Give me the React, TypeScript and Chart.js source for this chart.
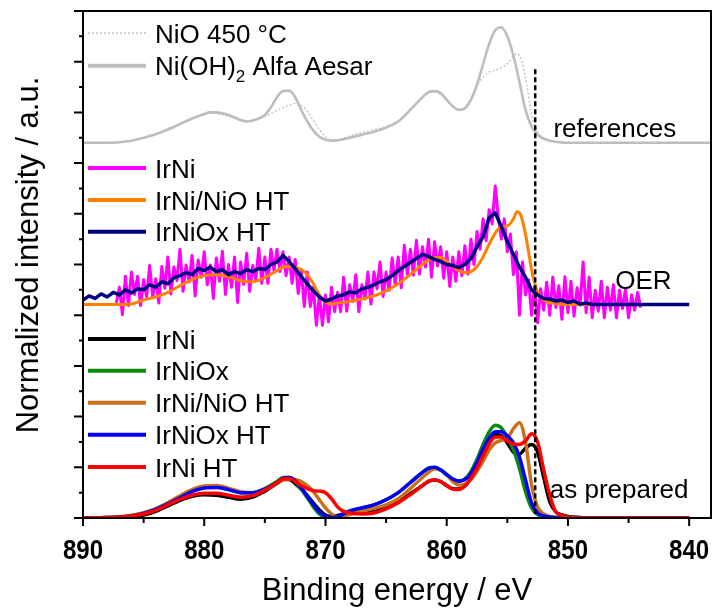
import React, { useEffect, useRef } from "react";
import { Chart, registerables } from "chart.js";

Chart.register(...registerables);

// ---------- axes ----------
const X_MIN = 838.2;
const X_MAX = 890;
const Y_MIN = 0;
const Y_MAX = 10;
const X_TICKS_MAJOR = [890, 880, 870, 860, 850, 840];
const X_TICKS_MINOR = [885, 875, 865, 855, 845];
const Y_TICKS_MAJOR = [0, 1, 2, 3, 4, 5, 6, 7, 8, 9, 10];
const Y_TICKS_MINOR = [0.5, 1.5, 2.5, 3.5, 4.5, 5.5, 6.5, 7.5, 8.5, 9.5];
const X_TITLE = "Binding energy / eV";
const Y_TITLE = "Normalized intensity / a.u.";
const DASH_E = 852.7;
const DASH_TOP = 8.85;

// ---------- references (top) ----------
const NIOH2_E = [890, 888, 887, 886, 885, 884, 883, 882, 881, 880, 879.5, 879, 878, 877, 876.5, 876, 875, 874.5, 874, 873.5, 873, 872.5, 872, 871.5, 871, 870.5, 870, 869.5, 869, 868, 867, 866, 865, 864, 863, 862, 861.5, 861, 860.5, 860, 859.5, 859, 858.5, 858, 857.5, 857, 856.5, 856, 855.5, 855, 854.5, 854, 853.5, 853, 852.5, 852, 851.5, 851, 850, 838.2];
const NIOH2_Y = [7.40, 7.40, 7.41, 7.44, 7.50, 7.57, 7.66, 7.77, 7.88, 7.97, 8.00, 8.00, 7.95, 7.85, 7.82, 7.84, 7.95, 8.10, 8.30, 8.42, 8.43, 8.30, 8.05, 7.82, 7.64, 7.52, 7.46, 7.44, 7.45, 7.50, 7.56, 7.62, 7.70, 7.82, 8.05, 8.30, 8.40, 8.42, 8.38, 8.25, 8.12, 8.05, 8.08, 8.25, 8.55, 8.95, 9.35, 9.62, 9.68, 9.50, 9.12, 8.60, 8.05, 7.72, 7.56, 7.48, 7.44, 7.42, 7.40, 7.40];

const NIO_E = [890, 887, 886, 885, 884, 883, 882, 881, 880, 879.5, 879, 878, 877, 876.5, 876, 875, 874, 873, 872.5, 872, 871.5, 871, 870.5, 870, 869.5, 869, 868, 867, 866, 865, 864, 863, 862, 861.5, 861, 860.5, 860, 859.5, 859, 858.5, 858, 857.5, 857, 856.5, 856, 855.5, 855, 854.5, 854.2, 853.8, 853.4, 853, 852.5, 852, 851.5, 851, 850, 838.2];
const NIO_Y = [7.40, 7.41, 7.44, 7.50, 7.58, 7.68, 7.78, 7.88, 7.96, 7.99, 7.98, 7.92, 7.84, 7.82, 7.84, 7.92, 8.04, 8.14, 8.18, 8.14, 8.02, 7.84, 7.66, 7.52, 7.46, 7.46, 7.54, 7.60, 7.66, 7.72, 7.84, 8.06, 8.30, 8.38, 8.40, 8.35, 8.24, 8.12, 8.06, 8.10, 8.28, 8.52, 8.70, 8.80, 8.84, 8.88, 8.96, 9.10, 9.16, 9.00, 8.55, 7.95, 7.62, 7.50, 7.45, 7.42, 7.40, 7.40];

// ---------- OER (middle) ----------
const OER_IRNI_START = 887.25;
const OER_IRNI_STEP = 0.25;
const OER_IRNI_Y = [
  4.24, 4.55, 4.01, 4.77, 4.19, 4.85, 4.41, 4.77, 4.19, 4.70, 4.37, 4.98, 4.35, 4.72, 4.24, 4.96,
  4.53, 5.15, 4.42, 4.95, 4.68, 5.30, 4.47, 4.99, 4.66, 5.18, 4.38, 5.09, 4.75, 5.25, 4.60, 4.99,
  4.33, 5.13, 4.67, 5.26, 4.41, 5.00, 4.55, 5.15, 4.25, 5.05, 4.61, 5.22, 4.47, 4.98, 4.70, 5.32,
  4.63, 5.15, 4.63, 5.30, 4.88, 5.30, 4.86, 5.25, 4.78, 5.15, 4.63, 5.10, 4.43, 4.90, 4.17, 4.85,
  4.17, 4.55, 3.80, 4.40, 3.80, 4.40, 3.87, 4.55, 4.07, 4.45, 4.07, 4.75, 4.08, 4.60, 4.27, 4.80,
  4.07, 4.60, 4.32, 4.85, 4.22, 4.85, 4.52, 5.05, 4.37, 4.85, 4.49, 5.13, 4.61, 5.15, 4.54, 5.38,
  4.81, 5.30, 4.79, 5.48, 4.81, 5.35, 4.95, 5.50, 4.75, 5.45, 4.97, 5.35, 4.73, 5.25, 4.57, 5.15,
  4.67, 5.25, 4.78, 5.37, 4.81, 5.50, 5.00, 5.65, 5.30, 5.90, 5.47, 6.08, 5.80, 6.55, 5.95, 5.50,
  5.90, 5.25, 5.60, 4.80, 5.25, 4.00, 5.05, 4.40, 4.70, 4.00, 4.57, 3.85, 4.52, 4.10, 4.65, 4.00,
  4.75, 4.15, 4.58, 3.92, 4.76, 4.05, 4.67, 3.98, 4.54, 4.20, 5.05, 4.05, 4.75, 3.95, 4.49, 4.08,
  4.67, 3.95, 4.55, 4.10, 4.60, 3.95, 4.49, 4.13, 4.52, 3.95, 4.40, 4.10, 4.45, 4.15,
];

const OER_NIO_E = [890, 887, 886, 885, 884, 883, 882, 881, 880, 879, 878, 877, 876, 875, 874, 873.5, 873, 872.5, 872, 871.5, 871, 870.5, 870, 869.5, 869, 868, 867, 866, 865, 864, 863, 862, 861, 860.5, 860, 859.5, 859, 858.5, 858, 857.5, 857, 856.5, 856, 855.5, 855, 854.5, 854.2, 853.9, 853.5, 853, 852.5, 852, 851, 850, 840];
const OER_NIO_Y = [4.21, 4.21, 4.22, 4.30, 4.36, 4.45, 4.58, 4.70, 4.78, 4.80, 4.76, 4.68, 4.66, 4.74, 4.88, 4.95, 4.96, 4.94, 4.90, 4.80, 4.62, 4.40, 4.26, 4.22, 4.24, 4.27, 4.32, 4.38, 4.48, 4.62, 4.80, 5.00, 5.14, 5.14, 5.06, 4.96, 4.88, 4.84, 4.86, 4.96, 5.15, 5.40, 5.62, 5.75, 5.76, 5.90, 6.04, 5.98, 5.60, 4.90, 4.45, 4.30, 4.23, 4.21, 4.21];

const OER_OX_E = [890, 889.5, 889, 888.5, 888, 887.5, 887, 886.5, 886, 885.5, 885, 884.5, 884, 883.5, 883, 882.5, 882, 881.5, 881, 880.5, 880, 879.5, 879, 878.5, 878, 877.5, 877, 876.5, 876, 875.5, 875, 874.5, 874, 873.5, 873, 872.5, 872, 871.5, 871, 870.5, 870, 869.5, 869, 868.5, 868, 867.5, 867, 866.5, 866, 865.5, 865, 864.5, 864, 863.5, 863, 862.5, 862, 861.5, 861, 860.5, 860, 859.5, 859, 858.5, 858, 857.5, 857, 856.5, 856, 855.5, 855, 854.5, 854, 853.5, 853, 852.5, 852, 851.5, 851, 850.5, 850, 849.5, 849, 848.5, 848, 840];
const OER_OX_Y = [4.30, 4.38, 4.33, 4.42, 4.36, 4.45, 4.40, 4.50, 4.44, 4.52, 4.50, 4.60, 4.55, 4.66, 4.62, 4.74, 4.78, 4.84, 4.80, 4.92, 4.88, 4.95, 4.86, 4.90, 4.80, 4.86, 4.82, 4.90, 4.86, 4.92, 4.90, 5.00, 5.05, 5.18, 5.06, 4.92, 4.76, 4.62, 4.48, 4.36, 4.28, 4.32, 4.38, 4.40, 4.46, 4.44, 4.52, 4.55, 4.60, 4.66, 4.70, 4.78, 4.88, 4.96, 5.04, 5.12, 5.20, 5.16, 5.10, 5.06, 5.00, 4.98, 4.94, 5.00, 5.12, 5.35, 5.55, 5.92, 6.02, 5.75, 5.45, 5.20, 4.95, 4.75, 4.50, 4.40, 4.33, 4.32, 4.28, 4.30, 4.25, 4.28, 4.22, 4.24, 4.21, 4.21];

// ---------- as prepared (bottom) ----------
const AP_E = [890, 888, 887, 886, 885, 884, 883, 882, 881, 880, 879, 878, 877, 876, 875, 874, 873.5, 873, 872.5, 872, 871.5, 871, 870.5, 870, 869.5, 869, 868.5, 868, 867, 866, 865, 864, 863, 862, 861.5, 861, 860.5, 860, 859.5, 859, 858.5, 858, 857.5, 857, 856.5, 856, 855.5, 855, 854.5, 854, 853.5, 853, 852.5, 852, 851.5, 851, 850.5, 850, 849, 848, 840];
const AP_IRNI = [0, 0, 0.01, 0.02, 0.06, 0.13, 0.24, 0.35, 0.43, 0.46, 0.45, 0.41, 0.37, 0.41, 0.53, 0.68, 0.76, 0.76, 0.68, 0.57, 0.44, 0.30, 0.16, 0.06, 0.03, 0.05, 0.08, 0.10, 0.12, 0.16, 0.22, 0.32, 0.48, 0.64, 0.72, 0.75, 0.72, 0.64, 0.58, 0.57, 0.63, 0.80, 1.02, 1.28, 1.52, 1.64, 1.62, 1.48, 1.30, 1.26, 1.38, 1.45, 1.30, 0.80, 0.32, 0.12, 0.06, 0.03, 0.01, 0, 0];
const AP_IRNIOX = [0, 0.01, 0.02, 0.05, 0.10, 0.18, 0.30, 0.43, 0.55, 0.61, 0.61, 0.56, 0.50, 0.50, 0.58, 0.72, 0.80, 0.80, 0.72, 0.57, 0.40, 0.22, 0.08, 0.01, 0, 0.01, 0.07, 0.13, 0.20, 0.26, 0.36, 0.50, 0.70, 0.90, 0.98, 0.99, 0.94, 0.85, 0.76, 0.72, 0.77, 0.92, 1.16, 1.45, 1.70, 1.83, 1.78, 1.58, 1.35, 0.98, 0.52, 0.20, 0.07, 0.03, 0.01, 0, 0, 0, 0, 0, 0];
const AP_IRNI_NIO_HT = [0, 0.01, 0.02, 0.05, 0.10, 0.18, 0.30, 0.44, 0.56, 0.63, 0.64, 0.59, 0.52, 0.50, 0.56, 0.68, 0.75, 0.77, 0.76, 0.72, 0.64, 0.52, 0.36, 0.20, 0.08, 0.02, 0.03, 0.07, 0.13, 0.19, 0.26, 0.38, 0.58, 0.80, 0.90, 0.97, 0.95, 0.85, 0.72, 0.65, 0.67, 0.76, 0.92, 1.12, 1.34, 1.48, 1.53, 1.57, 1.76, 1.88, 1.50, 0.65, 0.22, 0.08, 0.03, 0.01, 0, 0, 0, 0, 0];
const AP_IRNIOX_HT = [0, 0.01, 0.02, 0.04, 0.09, 0.17, 0.28, 0.40, 0.52, 0.59, 0.60, 0.56, 0.50, 0.50, 0.57, 0.70, 0.78, 0.80, 0.74, 0.60, 0.43, 0.26, 0.12, 0.04, 0.01, 0.02, 0.08, 0.14, 0.20, 0.26, 0.36, 0.50, 0.70, 0.90, 0.98, 1.00, 0.95, 0.86, 0.77, 0.73, 0.76, 0.88, 1.10, 1.36, 1.58, 1.70, 1.70, 1.62, 1.48, 1.20, 0.75, 0.30, 0.10, 0.04, 0.02, 0.01, 0, 0, 0, 0, 0];
const AP_IRNI_HT = [0, 0.01, 0.02, 0.04, 0.08, 0.15, 0.26, 0.37, 0.45, 0.49, 0.49, 0.45, 0.41, 0.44, 0.55, 0.70, 0.77, 0.78, 0.72, 0.64, 0.58, 0.54, 0.53, 0.50, 0.38, 0.22, 0.13, 0.10, 0.08, 0.10, 0.18, 0.30, 0.46, 0.64, 0.73, 0.75, 0.72, 0.64, 0.57, 0.56, 0.63, 0.78, 0.98, 1.22, 1.46, 1.60, 1.60, 1.52, 1.46, 1.45, 1.52, 1.66, 1.50, 0.95, 0.45, 0.12, 0.05, 0.02, 0, 0, 0];

// ---------- text ----------
const PANEL_LABELS = [
  { text: "references", x: 851.2, y: 7.52 },
  { text: "OER", x: 846.1, y: 4.51 },
  { text: "as prepared", x: 851.5, y: 0.39 },
];

const FONT = '"Liberation Sans", Arial, Helvetica, sans-serif';

type Series = {
  label: string;
  sub?: [string, string, string];
  color: string;
  width: number;
  dash?: number[];
  smooth: boolean;
  order: number;
  legendY: number;
  pts: { x: number; y: number }[];
};

const zip = (xs: number[], ys: number[]) => xs.map((x, i) => ({ x, y: ys[i] }));

function App() {
  const ref = useRef<HTMLCanvasElement | null>(null);

  useEffect(() => {
    const canvas = ref.current;
    if (!canvas) return;

    const irniX = OER_IRNI_Y.map((_, i) => OER_IRNI_START - i * OER_IRNI_STEP);

    const series: Series[] = [
      { label: "NiO 450 °C", color: "#c4c4c4", width: 1.5, dash: [2, 2], smooth: true, order: 21, legendY: 33, pts: zip(NIO_E, NIO_Y) },
      { label: "Ni(OH)2 Alfa Aesar", sub: ["Ni(OH)", "2", " Alfa Aesar"], color: "#bdbdbd", width: 2.6, smooth: true, order: 20, legendY: 65.7, pts: zip(NIOH2_E, NIOH2_Y) },
      { label: "IrNi", color: "#ff00ff", width: 3, smooth: false, order: 12, legendY: 168, pts: zip(irniX, OER_IRNI_Y) },
      { label: "IrNi/NiO HT", color: "#ff8000", width: 3, smooth: true, order: 11, legendY: 200, pts: zip(OER_NIO_E, OER_NIO_Y) },
      { label: "IrNiOx HT", color: "#000080", width: 3.5, smooth: false, order: 10, legendY: 231.7, pts: zip(OER_OX_E, OER_OX_Y) },
      { label: "IrNi", color: "#000000", width: 3.5, smooth: true, order: 5, legendY: 339, pts: zip(AP_E, AP_IRNI) },
      { label: "IrNiOx", color: "#0a8a0a", width: 3.5, smooth: true, order: 4, legendY: 370.7, pts: zip(AP_E, AP_IRNIOX) },
      { label: "IrNi/NiO HT", color: "#c8701a", width: 3.5, smooth: true, order: 3, legendY: 402.7, pts: zip(AP_E, AP_IRNI_NIO_HT) },
      { label: "IrNiOx HT", color: "#0000ff", width: 3.5, smooth: true, order: 2, legendY: 434.7, pts: zip(AP_E, AP_IRNIOX_HT) },
      { label: "IrNi HT", color: "#ff0000", width: 3.5, smooth: true, order: 1, legendY: 467, pts: zip(AP_E, AP_IRNI_HT) },
    ];

    const decor = {
      id: "decor",
      afterDatasetsDraw(chart: any) {
        const { ctx, chartArea: a, scales } = chart;
        const xs = scales.x;
        const ys = scales.y;
        ctx.save();

        // dashed marker line
        ctx.strokeStyle = "#000";
        ctx.lineWidth = 2.5;
        ctx.setLineDash([5, 3]);
        const dx = xs.getPixelForValue(DASH_E);
        ctx.beginPath();
        ctx.moveTo(dx, ys.getPixelForValue(DASH_TOP));
        ctx.lineTo(dx, a.bottom);
        ctx.stroke();
        ctx.setLineDash([]);

        // frame
        ctx.lineWidth = 2;
        ctx.strokeRect(a.left, a.top, a.right - a.left, a.bottom - a.top);

        // ticks
        ctx.beginPath();
        X_TICKS_MAJOR.forEach((v) => {
          const p = xs.getPixelForValue(v);
          ctx.moveTo(p, a.bottom);
          ctx.lineTo(p, a.bottom + 8);
        });
        X_TICKS_MINOR.forEach((v) => {
          const p = xs.getPixelForValue(v);
          ctx.moveTo(p, a.bottom);
          ctx.lineTo(p, a.bottom + 5);
        });
        Y_TICKS_MAJOR.forEach((v) => {
          const p = ys.getPixelForValue(v);
          ctx.moveTo(a.left, p);
          ctx.lineTo(a.left - 9, p);
        });
        Y_TICKS_MINOR.forEach((v) => {
          const p = ys.getPixelForValue(v);
          ctx.moveTo(a.left, p);
          ctx.lineTo(a.left - 4, p);
        });
        ctx.stroke();

        // x tick labels (condensed bold)
        ctx.fillStyle = "#000";
        ctx.font = `bold 28px ${FONT}`;
        ctx.textAlign = "center";
        ctx.textBaseline = "alphabetic";
        X_TICKS_MAJOR.forEach((v) => {
          ctx.save();
          ctx.translate(xs.getPixelForValue(v), a.bottom + 41);
          ctx.scale(0.86, 1);
          ctx.fillText(String(v), 0, 0);
          ctx.restore();
        });

        // axis titles
        ctx.font = `31px ${FONT}`;
        ctx.fillText(X_TITLE, (a.left + a.right) / 2, 600);
        ctx.save();
        ctx.translate(38, 255);
        ctx.rotate(-Math.PI / 2);
        ctx.fillText(Y_TITLE, 0, 0);
        ctx.restore();

        // panel labels
        ctx.textAlign = "left";
        ctx.font = `26px ${FONT}`;
        PANEL_LABELS.forEach((l) => {
          ctx.fillText(l.text, xs.getPixelForValue(l.x), ys.getPixelForValue(l.y));
        });

        // legends
        series.forEach((s) => {
          const y = s.legendY;
          ctx.strokeStyle = s.color;
          ctx.lineWidth = s.dash ? 1.5 : 4;
          ctx.setLineDash(s.dash || []);
          ctx.beginPath();
          ctx.moveTo(a.left + 5, y);
          ctx.lineTo(a.left + 63, y);
          ctx.stroke();
          ctx.setLineDash([]);
          ctx.fillStyle = "#000";
          ctx.font = `26px ${FONT}`;
          const tx = a.left + 72;
          const ty = y + 9.5;
          if (s.sub) {
            const [p1, p2, p3] = s.sub;
            ctx.fillText(p1, tx, ty);
            const w1 = ctx.measureText(p1).width;
            ctx.font = `17px ${FONT}`;
            ctx.fillText(p2, tx + w1, ty + 7);
            const w2 = ctx.measureText(p2).width;
            ctx.font = `26px ${FONT}`;
            ctx.fillText(p3, tx + w1 + w2, ty);
          } else {
            ctx.fillText(s.label, tx, ty);
          }
        });

        ctx.restore();
      },
    };

    const chart = new Chart(canvas, {
      type: "line",
      data: {
        datasets: series.map((s) => ({
          label: s.label,
          data: s.pts,
          borderColor: s.color,
          backgroundColor: s.color,
          borderWidth: s.width,
          borderDash: s.dash || [],
          pointRadius: 0,
          fill: false,
          order: s.order,
          cubicInterpolationMode: s.smooth ? "monotone" : "default",
          tension: 0,
          borderJoinStyle: "round",
        })),
      },
      options: {
        animation: false,
        responsive: false,
        devicePixelRatio: 1,
        layout: { padding: { left: 83, right: 2, top: 11, bottom: 91 } },
        plugins: { legend: { display: false }, tooltip: { enabled: false } },
        scales: {
          x: { type: "linear", min: X_MIN, max: X_MAX, reverse: true, display: false },
          y: { type: "linear", min: Y_MIN, max: Y_MAX, display: false },
        },
        elements: { point: { radius: 0 } },
      },
      plugins: [decor],
    } as any);

    return () => chart.destroy();
  }, []);

  return (
    <div style={{ position: "absolute", left: 0, top: 0, width: 713, height: 609, background: "#fff" }}>
      <canvas ref={ref} width={713} height={609} style={{ display: "block" }} />
    </div>
  );
}

export default App;
